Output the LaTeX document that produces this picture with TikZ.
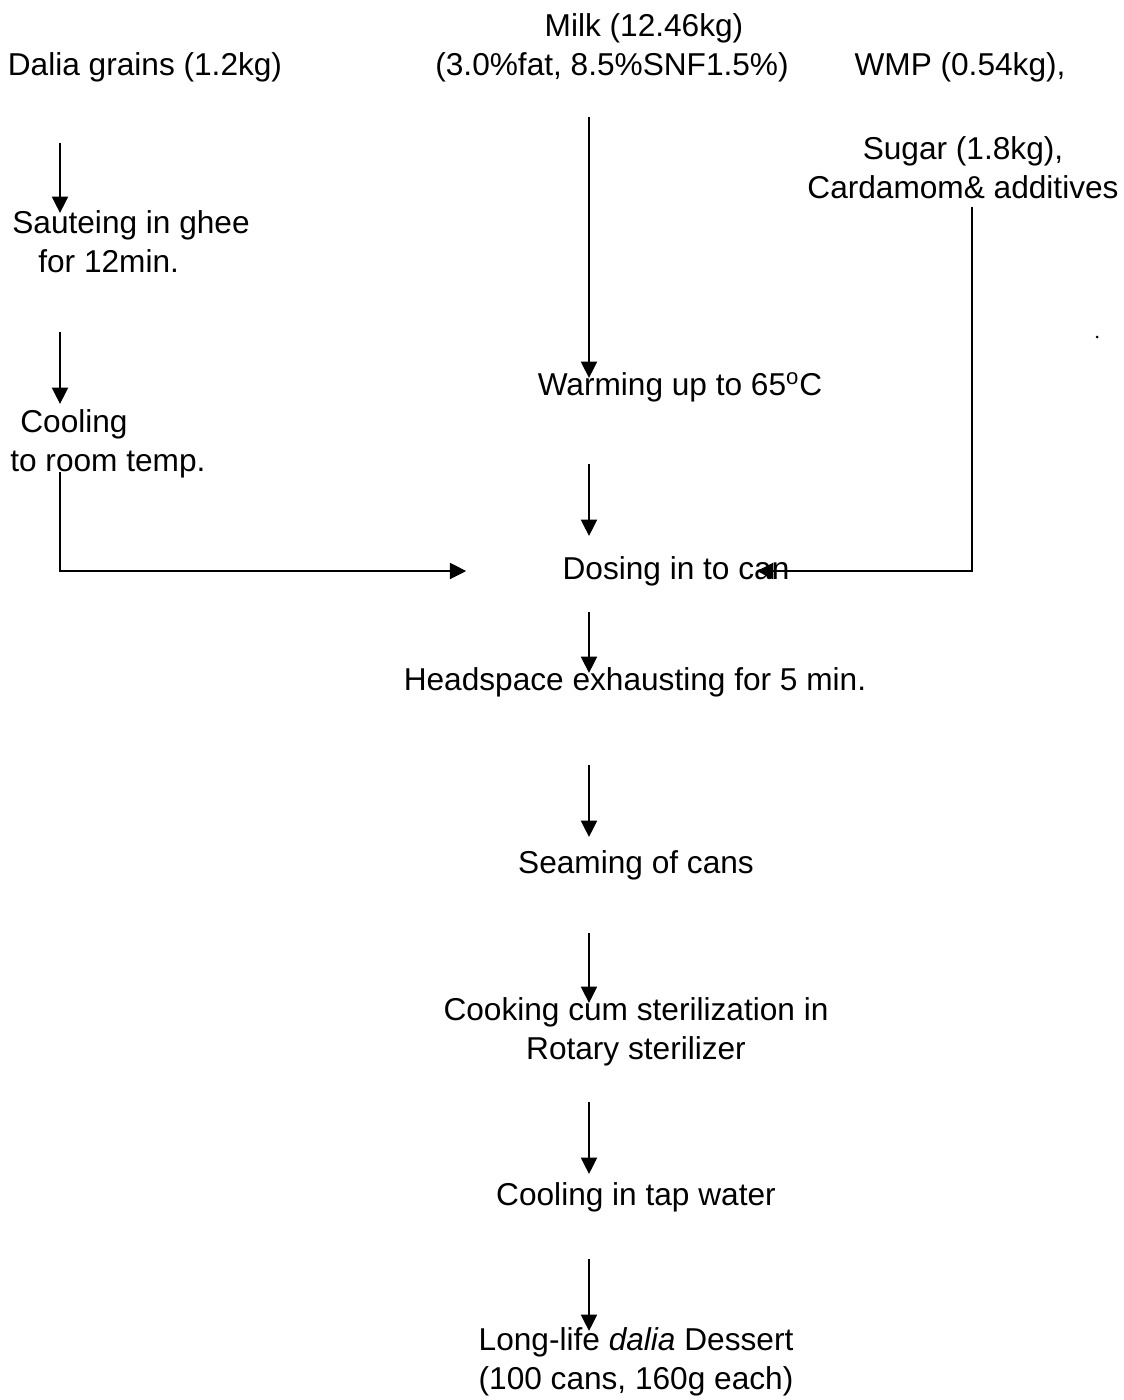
\documentclass[tikz,border=0pt]{standalone}
\usepackage{fontspec}
\setmainfont{Liberation Sans}
\usetikzlibrary{arrows.meta}

\begin{document}
\begin{tikzpicture}[x=0.02cm, y=-0.02cm,
    every node/.style={font=\fontsize{18}{22}\selectfont, inner sep=0pt},
    flow/.style={-{Triangle[length=0.33cm,width=0.32cm]}, line width=0.045cm},
    stage/.style={align=center},
    side/.style={align=left, anchor=west}
    ]
\useasboundingbox (0,0) rectangle (1124,1400);

\coordinate (lcol) at (60,0);
\coordinate (mcol) at (589,0);
\coordinate (rcol) at (972,0);

\node (dalia) at (145,67) {Dalia grains (1.2kg)};
\node (milkA) at (644,28) {Milk (12.46kg)};
\node (milkB) at (612,67) {(3.0\%fat, 8.5\%SNF1.5\%)};
\node (wmp) at (960,67) {WMP (0.54kg),};
\node[stage] (sugar) at (963,167.5) {Sugar (1.8kg),\\Cardamom\& additives};
\node[side] (saute) at (12,241.5) {Sauteing in ghee\\\hspace*{0.52cm}for 12min.};
\node[side] (cool) at (10,443.5) {\hspace*{0.2cm}Cooling\\to room temp.};
\node (warm) at (680,387) {Warming up to 65\textsuperscript{o}C};
\node (dose) at (676,571) {Dosing in to can};
\node (head) at (635,682) {Headspace exhausting for 5 min.};
\node (seam) at (636,865) {Seaming of cans};
\node[stage] (cook) at (636,1032) {Cooking cum sterilization in\\Rotary sterilizer};
\node (tap) at (636,1197) {Cooling in tap water};
\node[stage] (final) at (636,1361.5) {Long-life \textit{dalia} Dessert\\(100 cans, 160g each)};
\node[circle, fill, minimum size=0.06cm] (dot) at (1097,337) {};

\draw[flow, shorten <=1.52cm, shorten >=0.57cm] (dalia -| lcol) -- (saute -| lcol);
\draw[flow, shorten <=1.81cm, shorten >=0.79cm] (saute -| lcol) -- (cool -| lcol);
\draw[flow, shorten <=0.57cm, shorten >=1.92cm] (cool -| lcol) |- (dose.west);
\draw[flow, shorten <=1cm, shorten >=0.18cm] (milkB -| mcol) -- (warm -| mcol);
\draw[flow, shorten <=1.54cm, shorten >=0.7cm] (warm -| mcol) -- (dose -| mcol);
\draw[flow, shorten <=0.79cm, shorten >=-0.66cm] (sugar -| rcol) |- (dose.east);
\draw[flow, shorten <=0.82cm, shorten >=0.18cm] (dose -| mcol) -- (head -| mcol);
\draw[flow, shorten <=1.66cm, shorten >=0.56cm] (head -| mcol) -- (seam -| mcol);
\draw[flow, shorten <=1.36cm, shorten >=0.58cm] (seam -| mcol) -- (cook -| mcol);
\draw[flow, shorten <=1.4cm, shorten >=0.46cm] (cook -| mcol) -- (tap -| mcol);
\draw[flow, shorten <=1.24cm, shorten >=0.61cm] (tap -| mcol) -- (final -| mcol);
\end{tikzpicture}
\end{document}
